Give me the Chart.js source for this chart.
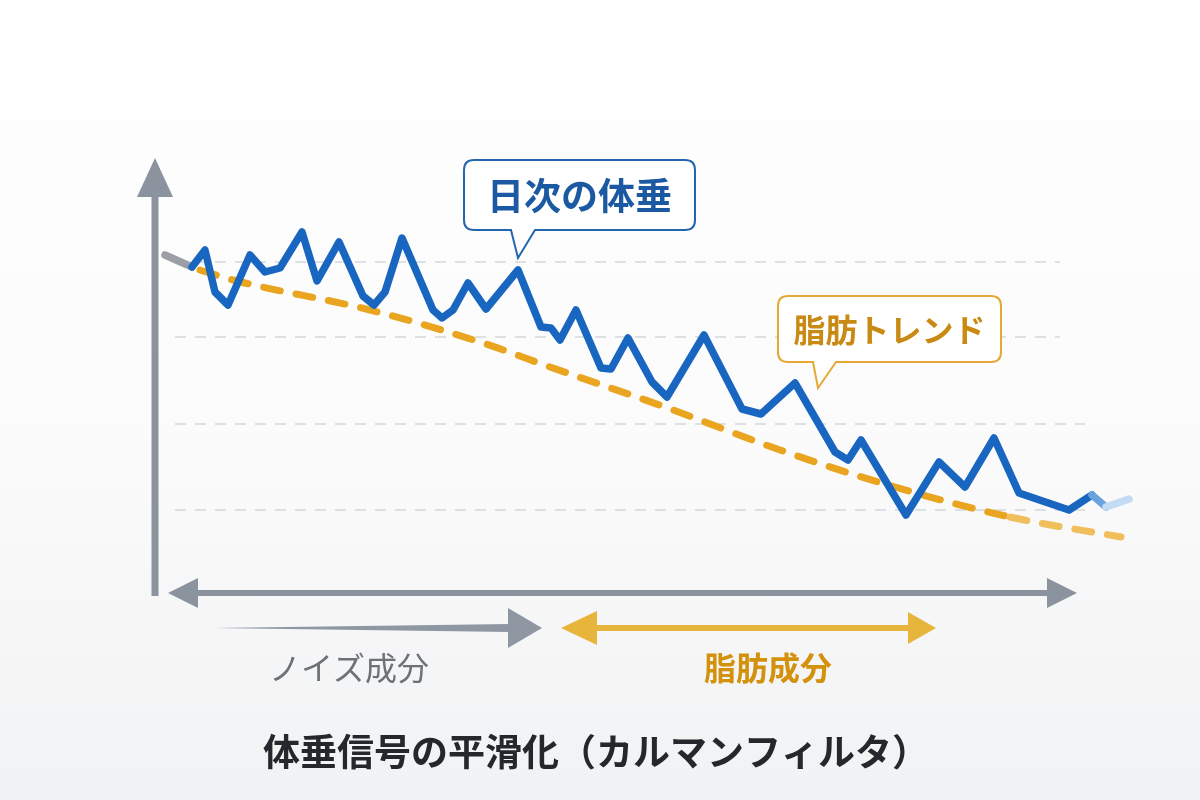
<html>

<head>
  <title>体垂信号の平滑化</title>
  <style>
    body {
      margin: 0;
      width: 1200px;
      height: 800px;
      background: linear-gradient(#ffffff 0%, #fbfbfc 55%, #f1f2f3 100%);
      overflow: hidden;
    }
    canvas { display: block; }
  </style>
</head>

<body>
  <canvas id="myChart" width="1200" height="800"></canvas>
  <script src="https://cdn.jsdelivr.net/npm/chart.js"></script>
  <script>
    // daily weight (noisy), first point is the grey lead-in
    const dayX = [1.0, 3.7, 5.0, 6.0, 7.3, 9.5, 11.0, 12.5, 14.7, 16.2, 18.4, 20.8, 21.9, 23.0, 24.7,
      27.8, 28.7, 29.8, 31.3, 33.1, 36.3, 38.6, 39.6, 40.5, 42.1, 44.6, 45.6, 47.3, 49.7, 51.2,
      54.9, 58.7, 60.6, 64.0, 68.0, 69.3, 70.6, 75.1, 78.4, 81.0, 83.9, 86.4, 91.4, 93.7, 95.1, 97.4];
    const dailyWeight = [71.45, 71.33, 71.50, 71.08, 70.95, 71.45, 71.28, 71.32, 71.68, 71.19, 71.58, 71.04, 70.95, 71.08, 71.62,
      70.90, 70.82, 70.90, 71.17, 70.91, 71.30, 70.73, 70.72, 70.60, 70.90, 70.32, 70.31, 70.62, 70.18, 70.03,
      70.65, 69.91, 69.86, 70.17, 69.48, 69.40, 69.60, 68.85, 69.38, 69.13, 69.62, 69.07, 68.90, 69.05, 68.93, 69.01];

    // smoothed fat trend
    const trendX = [4.5, 7.8, 21.5, 32.8, 39.5, 51.0, 62.5, 74.0, 85.5, 96.6];
    const trendWeight = [71.30, 71.20, 70.90, 70.57, 70.33, 69.93, 69.50, 69.13, 68.83, 68.63];

    const gridWeights = [71.38, 70.63, 69.76, 68.90];

    const title = '体垂信号の平滑化（カルマンフィルタ）';
    const dailyLabel = '日次の体垂';
    const trendLabel = '脂肪トレンド';
    const noiseLabel = 'ノイズ成分';
    const fatLabel = '脂肪成分';

    const BLUE = '#1866c0';
    const GOLD = '#e9a420';
    const GREY = '#8a939e';
    const FONT = '"Noto Sans CJK JP", "Noto Sans", sans-serif';

    // speech bubble with tail pointing at (tx, ty)
    function bubble(ctx, box, tail, tx, ty, stroke, color, text, size) {
      ctx.save();
      ctx.lineWidth = 2;
      ctx.strokeStyle = stroke;
      ctx.fillStyle = '#ffffff';
      ctx.beginPath();
      const r = 10;
      const x = box.x, y = box.y, w = box.w, h = box.h;
      ctx.moveTo(x + r, y);
      ctx.lineTo(x + w - r, y);
      ctx.quadraticCurveTo(x + w, y, x + w, y + r);
      ctx.lineTo(x + w, y + h - r);
      ctx.quadraticCurveTo(x + w, y + h, x + w - r, y + h);
      ctx.lineTo(tail[1], y + h);
      ctx.lineTo(tx, ty);
      ctx.lineTo(tail[0], y + h);
      ctx.lineTo(x + r, y + h);
      ctx.quadraticCurveTo(x, y + h, x, y + h - r);
      ctx.lineTo(x, y + r);
      ctx.quadraticCurveTo(x, y, x + r, y);
      ctx.closePath();
      ctx.fill();
      ctx.stroke();
      ctx.fillStyle = color;
      ctx.font = 'bold ' + size + 'px ' + FONT;
      ctx.textAlign = 'center';
      ctx.textBaseline = 'middle';
      ctx.fillText(text, x + w / 2, y + h / 2 + 1);
      ctx.restore();
    }

    function arrowHead(ctx, tipX, y, dir, len, half) {
      ctx.beginPath();
      ctx.moveTo(tipX, y);
      ctx.lineTo(tipX - dir * len, y - half);
      ctx.lineTo(tipX - dir * len, y + half);
      ctx.closePath();
      ctx.fill();
    }

    const gridPlugin = {
      id: 'grid',
      beforeDatasetsDraw(chart) {
        const ctx = chart.ctx;
        const ys = chart.scales.y, xs = chart.scales.x;
        ctx.save();
        ctx.strokeStyle = '#d4d7db';
        ctx.lineWidth = 1.5;
        ctx.setLineDash([11, 9]);
        gridWeights.forEach((w, i) => {
          const py = ys.getPixelForValue(w);
          ctx.beginPath();
          ctx.moveTo(xs.getPixelForValue(2), py);
          ctx.lineTo(xs.getPixelForValue(i < 2 ? 90.5 : 93), py);
          ctx.stroke();
        });
        ctx.restore();
      }
    };

    const decorPlugin = {
      id: 'decor',
      afterDraw(chart) {
        const ctx = chart.ctx;
        const a = chart.chartArea;
        const xs = chart.scales.x, ys = chart.scales.y;
        ctx.save();

        // y axis arrow
        ctx.fillStyle = GREY;
        ctx.fillRect(a.left - 3.5, a.top + 36, 7, 400);
        ctx.beginPath();
        ctx.moveTo(a.left, a.top - 2);
        ctx.lineTo(a.left - 18, a.top + 37);
        ctx.lineTo(a.left + 18, a.top + 37);
        ctx.closePath();
        ctx.fill();

        // x axis double arrow
        const axY = 593;
        ctx.fillRect(190, axY - 3, 865, 6);
        arrowHead(ctx, 168, axY, -1, 30, 15);
        arrowHead(ctx, 1077, axY, 1, 30, 15);

        // noise component arrow (tapered)
        const nY = 628;
        ctx.fillStyle = '#8e97a2';
        ctx.beginPath();
        ctx.moveTo(213, nY);
        ctx.lineTo(510, nY - 4);
        ctx.lineTo(510, nY + 4);
        ctx.closePath();
        ctx.fill();
        arrowHead(ctx, 542, nY, 1, 34, 20);

        // fat component double arrow
        ctx.fillStyle = '#e8b53c';
        ctx.fillRect(590, nY - 3, 320, 6);
        arrowHead(ctx, 561, nY, -1, 36, 17);
        arrowHead(ctx, 936, nY, 1, 28, 16);

        // labels
        ctx.textAlign = 'center';
        ctx.textBaseline = 'middle';
        ctx.font = '32px ' + FONT;
        ctx.fillStyle = '#6d7178';
        ctx.fillText(noiseLabel, 349, 668);
        ctx.font = 'bold 32px ' + FONT;
        ctx.fillStyle = '#d4920c';
        ctx.fillText(fatLabel, 768, 668);

        ctx.font = 'bold 37px ' + FONT;
        ctx.fillStyle = '#24272b';
        ctx.fillText(title, 596, 752);

        // callouts
        const pk = 20;
        const tx1 = xs.getPixelForValue(dayX[pk]);
        const ty1 = ys.getPixelForValue(dailyWeight[pk]) - 12;
        bubble(ctx, { x: 464, y: 160, w: 231, h: 70 }, [511, 535], tx1, ty1, '#2466ad', '#1b5aa2', dailyLabel, 37);

        const tx2 = xs.getPixelForValue(66.3);
        const ty2 = ys.getPixelForValue(70.12);
        bubble(ctx, { x: 778, y: 296, w: 223, h: 66 }, [813, 836], tx2, ty2, '#e4a935', '#c88a12', trendLabel, 32);

        ctx.restore();
      }
    };

    const n = dayX.length;
    const data = {
      datasets: [
        {
          label: dailyLabel,
          data: dayX.map((x, i) => ({ x: x, y: dailyWeight[i] })),
          borderColor: BLUE,
          borderWidth: 7.5,
          borderJoinStyle: 'round',
          borderCapStyle: 'round',
          pointRadius: 0,
          tension: 0,
          clip: false,
          order: 1,
          segment: {
            borderColor: c => c.p0DataIndex === 0 ? '#9b9fa5'
              : c.p0DataIndex === n - 2 ? '#c3dbf3'
              : c.p0DataIndex === n - 3 ? '#6aa2de' : BLUE
          }
        },
        {
          label: trendLabel,
          data: trendX.map((x, i) => ({ x: x, y: trendWeight[i] })),
          borderColor: GOLD,
          borderWidth: 7,
          borderDash: [17, 16],
          borderCapStyle: 'round',
          pointRadius: 0,
          cubicInterpolationMode: 'monotone',
          clip: false,
          order: 2,
          segment: {
            borderColor: c => c.p0DataIndex === trendX.length - 2 ? '#f0be5a' : GOLD
          }
        }
      ]
    };

    const config = {
      type: 'line',
      data: data,
      options: {
        responsive: false,
        animation: false,
        layout: { padding: { left: 155, right: 65, top: 160, bottom: 200 } },
        scales: {
          x: { type: 'linear', min: 0, max: 98, display: false },
          y: { type: 'linear', min: 68.0, max: 72.4, display: false }
        },
        plugins: {
          legend: { display: false },
          tooltip: { enabled: false }
        }
      },
      plugins: [gridPlugin, decorPlugin]
    };

    const myChart = new Chart(document.getElementById('myChart'), config);
  </script>
</body>

</html>
